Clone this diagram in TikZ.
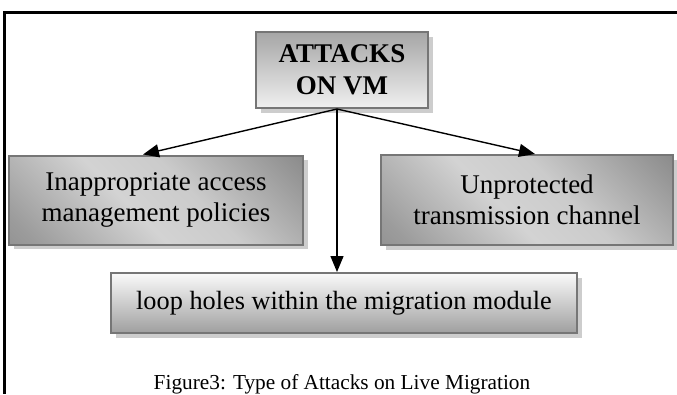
\documentclass[tikz,border=0pt]{standalone}
\usepackage{fontspec}
\setmainfont{Liberation Serif}
\usetikzlibrary{arrows.meta,shadows}

\definecolor{edgegray}{HTML}{767676}
\definecolor{shadowgray}{HTML}{CDCDCD}
\definecolor{sideA}{HTML}{7E7E7E}
\definecolor{sideB}{HTML}{9C9C9C}
\definecolor{sideC}{HTML}{D3D3D3}
\definecolor{sideD}{HTML}{CBCBCB}
\definecolor{sideE}{HTML}{979797}
\definecolor{sideF}{HTML}{6A6A6A}

% diagonal metallic fill for the two side boxes (dark corners, light band)
\pgfdeclareverticalshading{sideshade}{100bp}{%
  color(0bp)=(sideA); color(20bp)=(sideB); color(44bp)=(sideC);
  color(58bp)=(sideD); color(80bp)=(sideE); color(100bp)=(sideF)}

\tikzset{
  box/.style={draw=edgegray, line width=2pt, align=center, inner sep=0pt,
    font=\fontsize{27}{30.5}\selectfont,
    drop shadow={shadow xshift=4.5pt, shadow yshift=-4.5pt, fill=shadowgray, opacity=1}},
  rootbox/.style={box, top color=gray!70, bottom color=gray!12,
    font=\fontsize{27}{31.5}\selectfont\bfseries},
  sidebox/.style={box, shading=sideshade, shading angle=-45},
  basebox/.style={box, top color=gray!4, bottom color=gray!75,
    font=\fontsize{26.3}{30}\selectfont},
  link/.style={line width=1.4pt, -{Triangle[length=16pt,width=13pt]}},
  frameline/.style={line width=3pt},
}

\begin{document}
\begin{tikzpicture}[x=1pt,y=-1pt]
  \useasboundingbox (0,0) rectangle (677,394);

  % outer frame (top and left edges only)
  \draw[frameline] (3,12) -- (677,12);
  \draw[frameline] (4,12) -- (4,394);

  % boxes
  \node[rootbox, minimum width=172pt, minimum height=76pt] (root) at (342,70)
    {ATTACKS\\ON VM};
  \node[sidebox, minimum width=294pt, minimum height=89pt] (access) at (156,200)
    {Inappropriate access\\management policies};
  \node[sidebox, minimum width=292pt, minimum height=90pt] (channel) at (527,200)
    {Unprotected\\transmission channel};
  \node[basebox, minimum width=466pt, minimum height=60pt] (loop) at (344,303)
    {loop holes within the migration module};

  % connectors
  \coordinate (fork) at ([xshift=-5pt]root.south);
  \draw[link] (fork) -- ([xshift=-13pt]access.north);
  \draw[link] (fork) -- ([xshift=8pt]channel.north);
  \draw[link] (fork) -- (fork |- loop.north);

  % caption
  \node[anchor=base, inner sep=0pt, font=\fontsize{21.3}{25}\selectfont] (caption)
    at (342,389) {Figure3: Type of Attacks on Live Migration};
\end{tikzpicture}
\end{document}
